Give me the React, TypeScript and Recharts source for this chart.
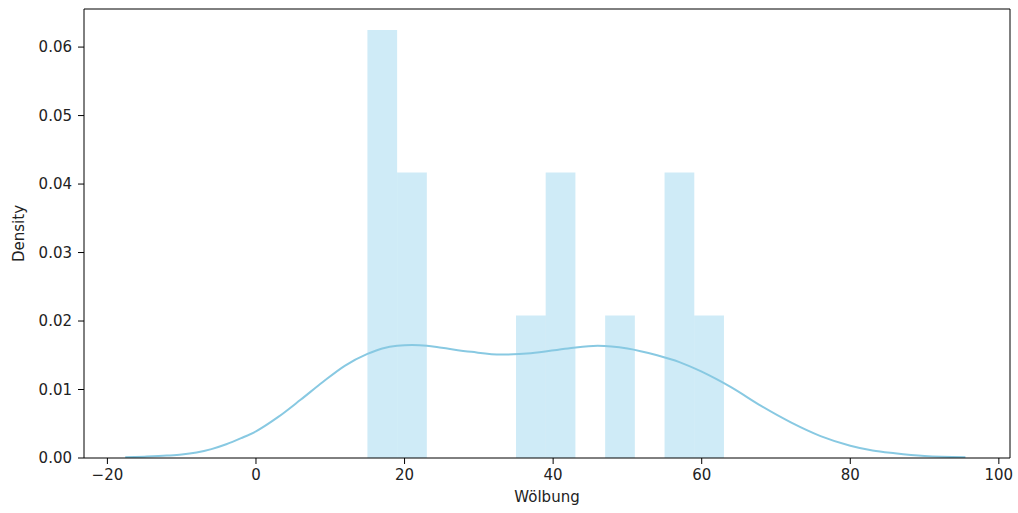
import React from "react"
import {
  ComposedChart,
  Line,
  XAxis,
  YAxis,
  ReferenceArea,
  Label
} from "recharts"

// histogram bins (left edge, right edge, density)
const binLeft = [15, 19, 35, 39, 47, 55, 59]
const binRight = [19, 23, 39, 43, 51, 59, 63]
const binDensity = [0.0625, 0.0417, 0.0208, 0.0417, 0.0208, 0.0417, 0.0208]

// kernel density estimate
const kdeX = [
  -17.6, -15, -12, -10, -8, -6, -4, -2, 0, 3, 6, 9, 12, 15, 17, 19, 21, 23,
  25, 29, 33, 37, 42, 46, 50, 54, 57, 60, 62, 64, 68, 72, 76, 80, 83, 86, 90,
  95.5
]
const kdeY = [
  0.0001, 0.0002, 0.00035, 0.0005, 0.0008, 0.0013, 0.002, 0.0029, 0.0039,
  0.006, 0.0085, 0.0111, 0.0135, 0.0152, 0.016, 0.0164, 0.0165, 0.0164,
  0.0161, 0.0155, 0.0151, 0.0153, 0.016, 0.0164, 0.016, 0.015, 0.014, 0.0126,
  0.0115, 0.0103, 0.0076, 0.0052, 0.0032, 0.0018, 0.0011, 0.0007, 0.0003,
  0.0001
]

const xTicks = [-20, 0, 20, 40, 60, 80, 100]
const yTicks = [0, 0.01, 0.02, 0.03, 0.04, 0.05, 0.06]

const kdeData = kdeX.map((x, i) => ({ x, density: kdeY[i] }))

const font = "'DejaVu Sans', sans-serif"
const textColor = "#222"
const barColor = "#87CEEB"
const xDomain: [number, number] = [-23.15, 101.5]
const yDomain: [number, number] = [0, 0.06556]

export default function App() {
  return (
    <div style={{ position: "absolute", left: 0, top: 0, background: "#fff" }}>
      <ComposedChart
        width={1018}
        height={513}
        data={kdeData}
        margin={{ top: 8, right: 7, bottom: 0, left: 0 }}
        style={{ fontFamily: font }}
      >
        <XAxis
          dataKey="x"
          type="number"
          domain={xDomain}
          ticks={xTicks}
          allowDataOverflow
          height={55}
          stroke="#000"
          tickSize={6}
          tickMargin={5}
          tick={{ fill: textColor, fontSize: 15 }}
          tickFormatter={(v: number) => (v < 0 ? "\u2212" + Math.abs(v) : String(v))}
        >
          <Label
            value="Wölbung"
            position="center"
            dy={11}
            style={{ fill: textColor, fontSize: 15 }}
          />
        </XAxis>
        {/* top spine */}
        <XAxis
          xAxisId="top"
          orientation="top"
          type="number"
          domain={xDomain}
          height={1}
          stroke="#000"
          tick={false}
          tickLine={false}
        />
        <YAxis
          type="number"
          domain={yDomain}
          ticks={yTicks}
          allowDataOverflow
          width={84}
          stroke="#000"
          tickSize={6}
          tickMargin={6}
          tick={{ fill: textColor, fontSize: 15 }}
          tickFormatter={(v: number) => v.toFixed(2)}
        >
          <Label
            value="Density"
            angle={-90}
            position="center"
            dx={-23}
            style={{ fill: textColor, fontSize: 15, textAnchor: "middle" }}
          />
        </YAxis>
        {/* right spine */}
        <YAxis
          yAxisId="right"
          orientation="right"
          type="number"
          domain={yDomain}
          width={1}
          stroke="#000"
          tick={false}
          tickLine={false}
        />
        {binLeft.map((left, i) => (
          <ReferenceArea
            key={i}
            x1={left}
            x2={binRight[i]}
            y1={0}
            y2={binDensity[i]}
            fill={barColor}
            fillOpacity={0.4}
            stroke="none"
          />
        ))}
        <Line
          type="monotone"
          dataKey="density"
          stroke="#88c9e2"
          strokeWidth={2}
          dot={false}
          isAnimationActive={false}
        />
      </ComposedChart>
    </div>
  )
}
